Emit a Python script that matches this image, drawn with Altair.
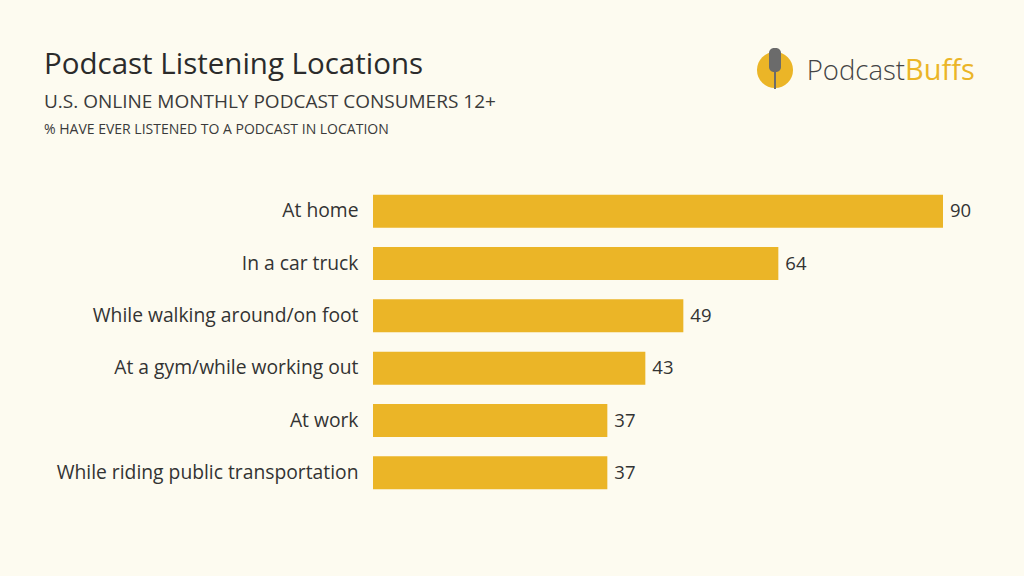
import altair as alt
import pandas as pd

categories = [
    "At home",
    "In a car truck",
    "While walking around/on foot",
    "At a gym/while working out",
    "At work",
    "While riding public transportation",
]
values = [90, 64, 49, 43, 37, 37]

title = "Podcast Listening Locations"
subtitle = "U.S. ONLINE MONTHLY PODCAST CONSUMERS 12+"
note = "% HAVE EVER LISTENED TO A PODCAST IN LOCATION"

BG = "#FDFBF0"
BAR = "#EBB527"
TXT = "#333333"
FONT = "Open Sans"

df = pd.DataFrame({"location": categories, "pct": values})

OX, OY = 373, 185

base = alt.Chart(df).encode(
    y=alt.Y(
        "location:N",
        sort=categories,
        scale=alt.Scale(paddingInner=0.37, paddingOuter=0.185),
        axis=alt.Axis(
            title=None, domain=False, ticks=False, labelPadding=15,
            labelFontSize=19.3, labelColor=TXT, labelFont=FONT, labelLimit=400,
            labelFontWeight=500,
        ),
    ),
    x=alt.X("pct:Q", scale=alt.Scale(domain=[0, 90]), axis=None),
)

bars = base.mark_bar(color=BAR)
labels = base.mark_text(
    align="left", dx=7, fontSize=18.5, font=FONT, color=TXT, fontWeight=500
).encode(text="pct:Q")

one = pd.DataFrame({"k": [0]})


def txt(s, x, y, size, color=TXT, weight="normal", align="left", baseline="alphabetic"):
    return alt.Chart(one).mark_text(
        text=s, align=align, baseline=baseline, fontSize=size, font=FONT,
        color=color, fontWeight=weight,
    ).encode(x=alt.value(x - OX), y=alt.value(y - OY))


t1 = txt(title, 44, 74, 29.5, color="#2b2b2b", weight=500)
t2 = txt(subtitle, 44, 108, 19, color="#3a3a3a")
t3 = txt(note, 44, 134, 14, color="#3a3a3a")

# logo
circle = alt.Chart(one).mark_point(
    shape="circle", filled=True, size=1300, color=BAR, opacity=1
).encode(x=alt.value(775 - OX), y=alt.value(70 - OY))
mic = alt.Chart(one).mark_rect(color="#6b6b6b", cornerRadius=5).encode(
    x=alt.value(769 - OX), x2=alt.value(781 - OX),
    y=alt.value(48 - OY), y2=alt.value(72 - OY),
)
stand = alt.Chart(one).mark_rule(color="#6b6b6b", strokeWidth=2).encode(
    x=alt.value(775 - OX), y=alt.value(72 - OY), y2=alt.value(89 - OY)
)
logo1 = txt("Podcast", 905, 80, 27.5, color="#444444", align="right", weight=300)
logo2 = txt("Buffs", 905, 80, 29, color=BAR, align="left", weight=500)

chart = alt.layer(
    bars, labels, t1, t2, t3, circle, mic, stand, logo1, logo2
).properties(
    width=570,
    height=314,
    background=BG,
    autosize=alt.AutoSizeParams(type="none"),
    padding={"left": OX, "top": OY, "right": 1024 - OX - 570, "bottom": 576 - OY - 314},
).configure_view(stroke=None)

chart.save("out.html", embed_options={"renderer": "svg", "actions": False})
